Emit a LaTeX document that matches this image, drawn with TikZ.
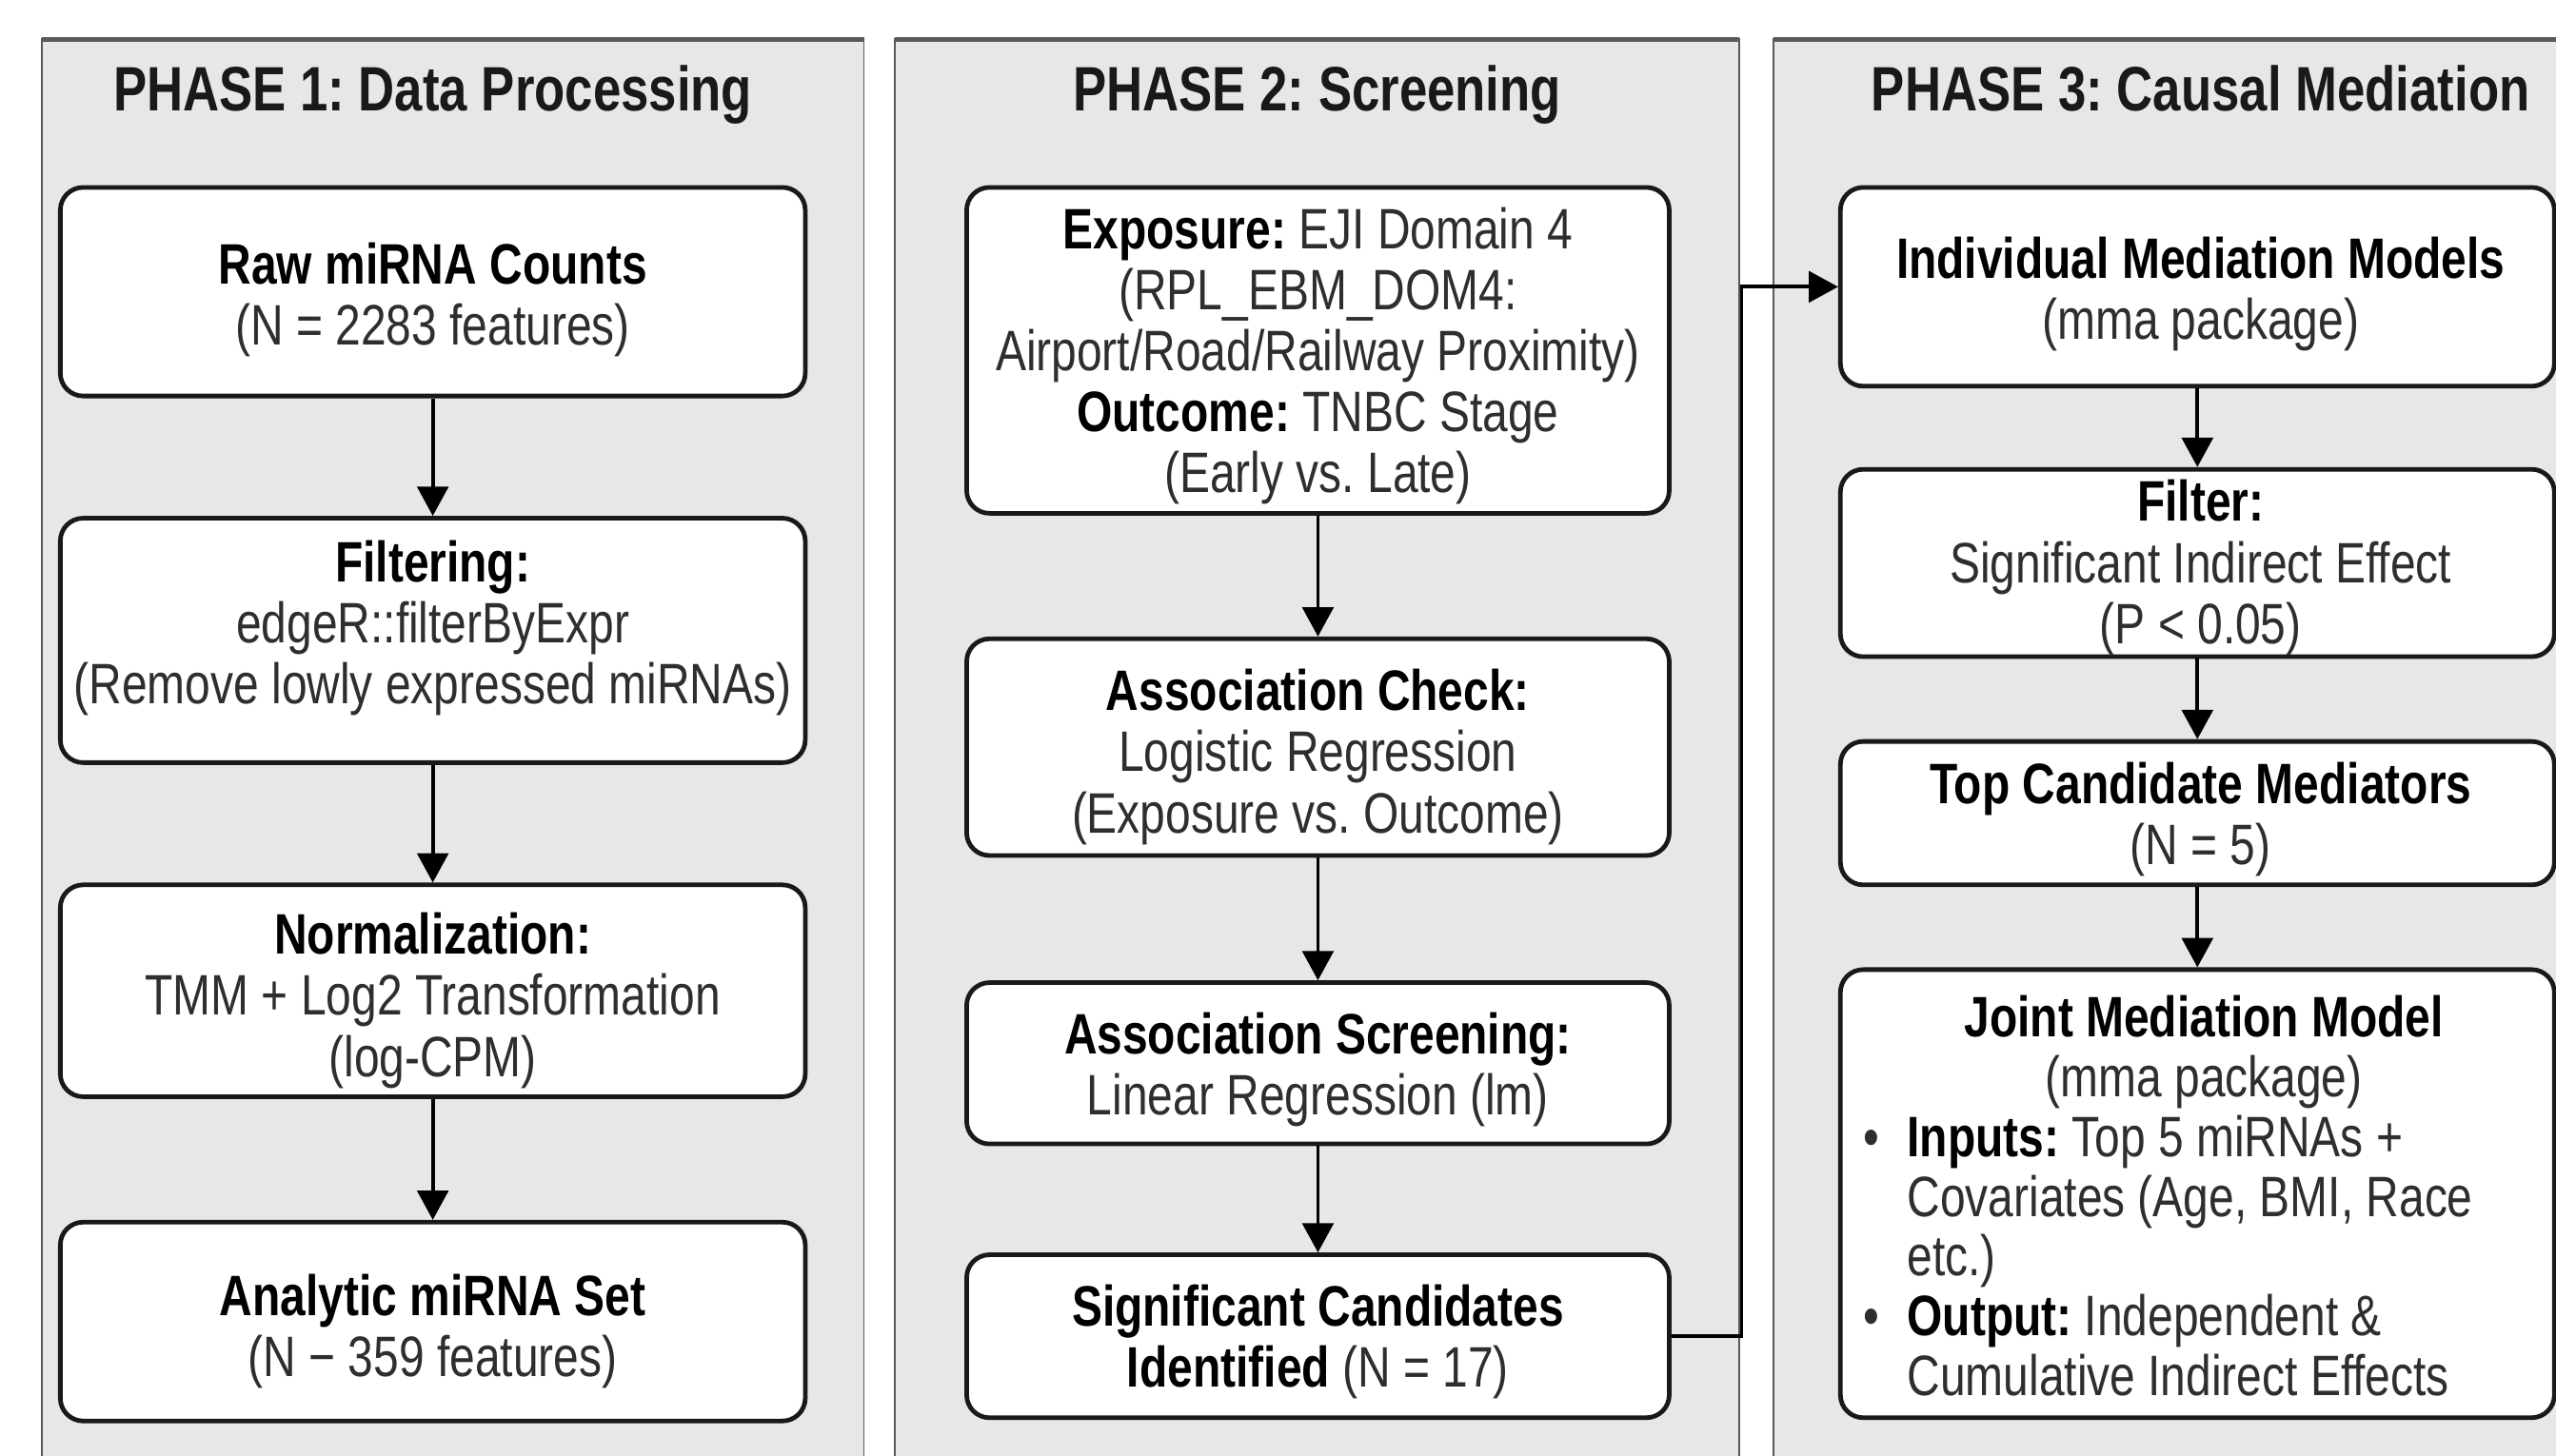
\documentclass[tikz,border=0pt]{standalone}
\usepackage{fontspec}
\setmainfont{Liberation Sans}[FakeStretch=0.8]
\usetikzlibrary{arrows.meta}
\definecolor{panelfill}{HTML}{E7E7E7}
\definecolor{panelline}{HTML}{5A5A5A}
\definecolor{bodytext}{HTML}{2E2E2E}
\newcommand{\hd}[1]{\textcolor{black}{\bfseries #1}}
\frenchspacing
\tikzset{
  panel/.style={fill=panelfill, draw=panelline, line width=1pt},
  paneltop/.style={draw=panelline, line width=3pt},
  stepbox/.style={draw=black!90, fill=white, line width=2.8pt, rounded corners=14pt, inner sep=0pt},
  txt/.style={align=center, font=\fontsize{35}{37.5}\selectfont, text=bodytext, inner sep=0pt},
  ttl/.style={font=\fontsize{38.5}{42}\selectfont\bfseries, text=black!90, inner sep=0pt, anchor=base},
  arr/.style={draw=black, line width=2.3pt, -{Triangle[length=18pt,width=19pt]}},
}
\begin{document}
\frenchspacing
\begin{tikzpicture}[x=1pt,y=-1pt]
\useasboundingbox (0,0) rectangle (1568,893);
\clip (0,0) rectangle (1568,893);
\fill[white] (0,0) rectangle (1568,893);

% panels
\draw[panel] (25.5,24) rectangle (530,920);
\draw[panel] (549,24) rectangle (1067,920);
\draw[panel] (1088,24) rectangle (1640,920);
\draw[paneltop] (25.5,24) -- (530,24);
\draw[paneltop] (549,24) -- (1067,24);
\draw[paneltop] (1088,24) -- (1640,24);

% titles
\node[ttl] (h1) at (265.5,68) {PHASE 1: Data Processing};
\node[ttl] (h2) at (808,68) {PHASE 2: Screening};
\node[ttl] (h3) at (1350,68) {PHASE 3: Causal Mediation};

% phase 1 boxes
\node[stepbox, minimum width=457pt, minimum height=128pt] (raw)  at (265.5,179) {};
\node[stepbox, minimum width=457pt, minimum height=150pt] (filt) at (265.5,393) {};
\node[stepbox, minimum width=457pt, minimum height=130pt] (norm) at (265.5,608) {};
\node[stepbox, minimum width=457pt, minimum height=122pt] (anal) at (265.5,811) {};

\node[txt] (traw)  at (265.5,185.5) {\strut\hd{Raw miRNA Counts}\\\strut(N = 2283 features)};
\node[txt] (tfilt) at (265.5,387) {\strut\hd{Filtering:}\\\strut edgeR::filterByExpr\\\strut(Remove lowly expressed miRNAs)};
\node[txt] (tnorm) at (265.5,615.5) {\strut\hd{Normalization:}\\\strut TMM + Log2 Transformation\\\strut(log-CPM)};
\node[txt] (tanal) at (265.5,818.5) {\strut\hd{Analytic miRNA Set}\\\strut(N − 359 features)};

% phase 2 boxes
\node[stepbox, minimum width=431pt, minimum height=200pt] (expo)   at (808.5,215) {};
\node[stepbox, minimum width=431pt, minimum height=133pt] (check)  at (808.5,458.5) {};
\node[stepbox, minimum width=431pt, minimum height=99pt]  (screen) at (808.5,652.5) {};
\node[stepbox, minimum width=431pt, minimum height=100pt] (sig)    at (808.5,820) {};

\node[txt] (texpo) at (808.5,220) {\strut\hd{Exposure:} EJI Domain 4\\\strut(RPL\_EBM\_DOM4:\\\strut Airport/Road/Railway Proximity)\\\strut\hd{Outcome:} TNBC Stage\\\strut(Early vs. Late)};
\node[txt] (tcheck) at (808.5,466) {\strut\hd{Association Check:}\\\strut Logistic Regression\\\strut(Exposure vs. Outcome)};
\node[txt] (tscreen) at (808.5,658) {\strut\hd{Association Screening:}\\\strut Linear Regression (lm)};
\node[txt] (tsig) at (808.5,825) {\strut\hd{Significant Candidates}\\\strut\hd{Identified} (N = 17)};

% phase 3 boxes
\node[stepbox, minimum width=438pt, minimum height=122pt] (indiv)  at (1348,176) {};
\node[stepbox, minimum width=438pt, minimum height=115pt] (filter) at (1348,345.5) {};
\node[stepbox, minimum width=438pt, minimum height=88pt]  (top)    at (1348,499) {};
\node[stepbox, minimum width=438pt, minimum height=275pt] (joint)  at (1348,732.5) {};

\node[txt] (tindiv) at (1350,182) {\strut\hd{Individual Mediation Models}\\\strut(mma package)};
\node[txt] (tfilter) at (1350,350) {\strut\hd{Filter:}\\\strut Significant Indirect Effect\\\strut(P < 0.05)};
\node[txt] (ttop) at (1350,504.5) {\strut\hd{Top Candidate Mediators}\\\strut(N = 5)};
\node[txt] (tjoint) at (1352,739) {\parbox{418pt}{\fontsize{35}{36.7}\selectfont\centering\strut\hd{Joint Mediation Model}\\\strut(mma package)\par
  \raggedright\leftskip=27pt\relax
  \noindent\llap{\makebox[27pt][l]{\textbullet}}\strut\hd{Inputs:} Top 5 miRNAs +\\\strut Covariates (Age, BMI, Race\\\strut etc.)\par
  \noindent\llap{\makebox[27pt][l]{\textbullet}}\strut\hd{Output:} Independent \&\\\strut Cumulative Indirect Effects}};

% connectors
\draw[arr] (raw.south) -- (filt.north);
\draw[arr] (filt.south) -- (norm.north);
\draw[arr] (norm.south) -- (anal.north);
\draw[arr] (expo.south) -- (check.north);
\draw[arr] (check.south) -- (screen.north);
\draw[arr] (screen.south) -- (sig.north);
\draw[arr] (indiv.south) -- (filter.north);
\draw[arr] (filter.south) -- (top.north);
\draw[arr] (top.south) -- (joint.north);
\draw[arr] (sig.east) -- ++(43,0) |- (indiv.west);
\end{tikzpicture}
\end{document}
